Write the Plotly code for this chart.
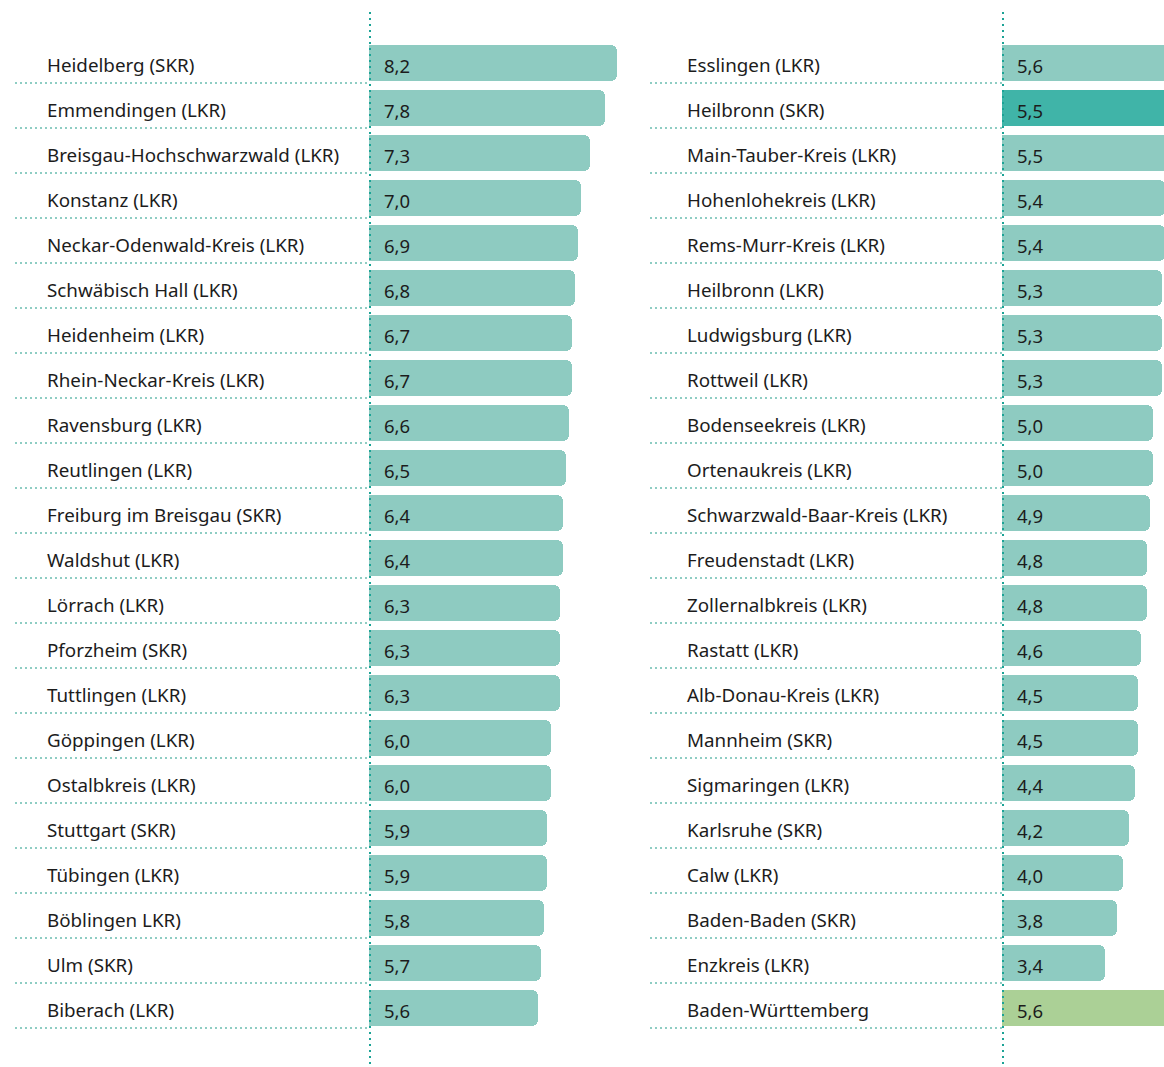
import plotly.graph_objects as go

# Left column: districts, top to bottom
left_names = [
    "Heidelberg (SKR)", "Emmendingen (LKR)", "Breisgau-Hochschwarzwald (LKR)",
    "Konstanz (LKR)", "Neckar-Odenwald-Kreis (LKR)", "Schwäbisch Hall (LKR)",
    "Heidenheim (LKR)", "Rhein-Neckar-Kreis (LKR)", "Ravensburg (LKR)",
    "Reutlingen (LKR)", "Freiburg im Breisgau (SKR)", "Waldshut (LKR)",
    "Lörrach (LKR)", "Pforzheim (SKR)", "Tuttlingen (LKR)", "Göppingen (LKR)",
    "Ostalbkreis (LKR)", "Stuttgart (SKR)", "Tübingen (LKR)", "Böblingen LKR)",
    "Ulm (SKR)", "Biberach (LKR)",
]
left_values = [8.2, 7.8, 7.3, 7.0, 6.9, 6.8, 6.7, 6.7, 6.6, 6.5, 6.4,
               6.4, 6.3, 6.3, 6.3, 6.0, 6.0, 5.9, 5.9, 5.8, 5.7, 5.6]

# Right column: districts, top to bottom (last row is the state average)
right_names = [
    "Esslingen (LKR)", "Heilbronn (SKR)", "Main-Tauber-Kreis (LKR)",
    "Hohenlohekreis (LKR)", "Rems-Murr-Kreis (LKR)", "Heilbronn (LKR)",
    "Ludwigsburg (LKR)", "Rottweil (LKR)", "Bodenseekreis (LKR)",
    "Ortenaukreis (LKR)", "Schwarzwald-Baar-Kreis (LKR)", "Freudenstadt (LKR)",
    "Zollernalbkreis (LKR)", "Rastatt (LKR)", "Alb-Donau-Kreis (LKR)",
    "Mannheim (SKR)", "Sigmaringen (LKR)", "Karlsruhe (SKR)", "Calw (LKR)",
    "Baden-Baden (SKR)", "Enzkreis (LKR)", "Baden-Württemberg",
]
right_values = [5.6, 5.5, 5.5, 5.4, 5.4, 5.3, 5.3, 5.3, 5.0, 5.0, 4.9,
                4.8, 4.8, 4.6, 4.5, 4.5, 4.4, 4.2, 4.0, 3.8, 3.4, 5.6]

highlight_name = "Heilbronn (SKR)"
total_name = "Baden-Württemberg"

W, H = 1164, 1067
BAR = "#8ecbc1"
DARK = "#40b4a8"
GREEN = "#abd096"
SEP = "#8ecdc3"
AXIS_LINE = "#1ba396"
TEXT = "#1c1c1c"
FONT = "Noto Sans"

PX_PER_UNIT = 30.25
ROW0, ROW_H = 63.0, 45.0
n_rows = len(left_names)

left_x0, right_x0 = 369.0, 1002.0
left_x1 = 640.0


def px(x):
    return x / W


def col_colors(names):
    out = []
    for n in names:
        if n == highlight_name:
            out.append(DARK)
        elif n == total_name:
            out.append(GREEN)
        else:
            out.append(BAR)
    return out


rows = list(range(n_rows))

fig = go.Figure()
fig.add_trace(go.Bar(
    x=left_values, y=rows, orientation="h", xaxis="x", yaxis="y",
    marker=dict(color=col_colors(left_names), line=dict(width=0), cornerradius=6),
    width=0.8, hoverinfo="skip", showlegend=False,
))
fig.add_trace(go.Bar(
    x=right_values, y=rows, orientation="h", xaxis="x2", yaxis="y",
    marker=dict(color=col_colors(right_names), line=dict(width=0), cornerradius=6),
    width=0.8, hoverinfo="skip", showlegend=False,
))

annotations = []
shapes = []
for names, values, label_x, value_x, sep_x0, sep_x1 in [
    (left_names, left_values, 47, 384, 15, 370),
    (right_names, right_values, 687, 1017, 650, 1003),
]:
    for i, (n, v) in enumerate(zip(names, values)):
        annotations.append(dict(
            x=px(label_x), xref="paper", y=i, yref="y", text=n,
            xanchor="left", yanchor="middle", showarrow=False,
            borderpad=0, borderwidth=0, yshift=-2,
            font=dict(family=FONT, size=18.8, color=TEXT),
        ))
        annotations.append(dict(
            x=px(value_x), xref="paper", y=i, yref="y",
            text=f"{v:.1f}".replace(".", ","),
            xanchor="left", yanchor="middle", showarrow=False,
            borderpad=0, borderwidth=0, yshift=-2,
            font=dict(family=FONT, size=18.5, color=TEXT),
        ))
        shapes.append(dict(
            type="line", xref="paper", yref="y",
            x0=px(sep_x0), x1=px(sep_x1), y0=i + 20 / ROW_H, y1=i + 20 / ROW_H,
            line=dict(color=SEP, width=2, dash="2px,3px"), layer="below",
        ))

for vx in (370, 1003):
    shapes.append(dict(
        type="line", xref="paper", yref="paper",
        x0=px(vx), x1=px(vx), y0=1 - 12 / H, y1=1 - 1065 / H,
        line=dict(color=AXIS_LINE, width=2, dash="2px,4px"), layer="above",
    ))

y_top = -ROW0 / ROW_H
y_bottom = (H - ROW0) / ROW_H

fig.update_layout(
    width=W, height=H,
    margin=dict(l=0, r=0, t=0, b=0),
    paper_bgcolor="white", plot_bgcolor="white",
    bargap=0,
    xaxis=dict(domain=[px(left_x0), px(left_x1)],
               range=[0, (left_x1 - left_x0) / PX_PER_UNIT],
               visible=False, fixedrange=True),
    xaxis2=dict(domain=[px(right_x0), 1.0],
                range=[0, (W - right_x0) / PX_PER_UNIT],
                visible=False, fixedrange=True, anchor="y"),
    yaxis=dict(range=[y_bottom, y_top], visible=False, fixedrange=True),
    annotations=annotations,
    shapes=shapes,
)

fig.write_html("out.html")
